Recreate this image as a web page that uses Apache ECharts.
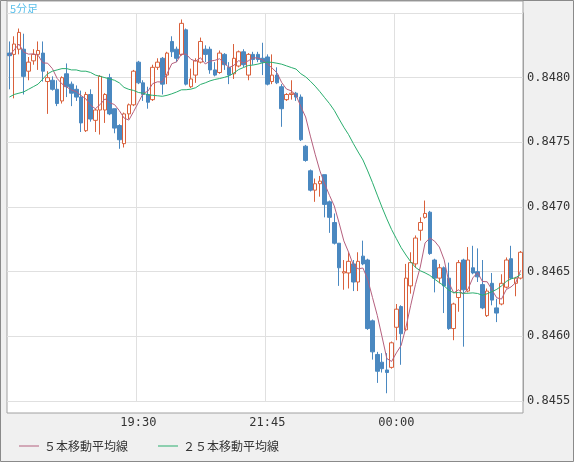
<!DOCTYPE html>
<html>
<head>
<meta charset="UTF-8">
<script src="https://cdn.jsdelivr.net/npm/echarts@6/dist/echarts.min.js"></script>
<style>
  body { margin: 0; background: #f0f0f0; }
  #chart { width: 574px; height: 462px; }
</style>
</head>
<body>
<div id="chart"></div>
<script>
// 5分足 17:15 ～ 02:10, 価格は 1e-5 単位
const startTime = '17:15';
const labelTimes = ['19:30', '21:45', '00:00'];
const yTicks = [0.8455, 0.8460, 0.8465, 0.8470, 0.8475, 0.8480];

const opens = [84819,84818,84822,84822,84805,84813,84818,84819,84797,84798,84791,84782,84803,84795,84791,84785,84759,84787,84767,84775,84775,84800,84776,84763,84749,84772,84779,84812,84796,84787,84783,84808,84815,84802,84828,84822,84818,84837,84793,84802,84812,84822,84822,84806,84804,84818,84808,84803,84809,84820,84802,84818,84818,84815,84816,84797,84802,84793,84783,84787,84788,84785,84747,84728,84713,84718,84725,84704,84688,84672,84649,84649,84656,84642,84662,84659,84612,84586,84580,84574,84576,84607,84623,84605,84639,84656,84682,84692,84696,84659,84645,84653,84645,84606,84630,84659,84635,84653,84650,84640,84616,84641,84622,84625,84638,84660,84641,84645];
const closes = [84817,84826,84835,84801,84812,84818,84821,84805,84800,84791,84780,84800,84793,84788,84785,84765,84787,84768,84775,84801,84787,84772,84761,84752,84772,84779,84805,84796,84787,84781,84808,84812,84795,84819,84820,84815,84842,84795,84799,84813,84828,84818,84806,84802,84819,84810,84802,84815,84820,84810,84818,84814,84814,84812,84795,84802,84796,84776,84787,84788,84785,84752,84736,84713,84718,84720,84702,84692,84672,84653,84650,84658,84642,84658,84656,84606,84588,84573,84575,84572,84595,84621,84602,84645,84657,84676,84688,84695,84664,84645,84653,84639,84606,84625,84657,84636,84659,84649,84646,84622,84635,84628,84618,84641,84659,84645,84645,84665];
const lows = [84791,84784,84818,84787,84798,84810,84806,84797,84772,84790,84778,84780,84785,84778,84782,84758,84758,84766,84758,84756,84765,84771,84757,84745,84746,84768,84778,84795,84782,84776,84782,84806,84787,84795,84816,84812,84817,84794,84792,84796,84811,84812,84803,84801,84803,84806,84795,84799,84808,84808,84798,84810,84812,84802,84794,84795,84795,84762,84782,84783,84782,84751,84735,84712,84704,84708,84692,84680,84671,84639,84636,84637,84635,84635,84655,84605,84582,84564,84572,84556,84575,84597,84578,84604,84633,84653,84674,84691,84663,84634,84641,84618,84605,84597,84619,84592,84634,84648,84642,84621,84615,84624,84611,84624,84637,84644,84631,84644];
const highs = [84828,84832,84838,84834,84816,84822,84828,84828,84805,84801,84798,84801,84811,84797,84794,84790,84789,84791,84776,84802,84788,84803,84776,84764,84773,84780,84806,84813,84798,84793,84810,84815,84816,84820,84832,84824,84845,84838,84807,84815,84831,84825,84824,84812,84821,84819,84812,84826,84821,84822,84819,84820,84820,84827,84818,84818,84808,84795,84788,84798,84789,84787,84748,84729,84722,84724,84725,84705,84695,84672,84659,84665,84659,84665,84674,84660,84613,84588,84587,84587,84596,84625,84624,84656,84665,84678,84692,84705,84697,84660,84656,84654,84657,84626,84659,84660,84669,84670,84668,84659,84637,84649,84629,84648,84661,84670,84646,84666];
// 25本線の先頭 24 本 (表示範囲より前のデータを含むため図から読み取り)
const ma25Head = [84785,84787,84788,84789,84791,84793,84795,84799,84803,84805,84806,84807,84807,84806,84806,84805,84805,84804,84802,84801,84800,84799,84798,84796];

const toPrice = v => v / 100000;

function makeTimes() {
  const out = [];
  let [h, m] = startTime.split(':').map(Number);
  for (let i = 0; i < opens.length; i++) {
    out.push(String(h).padStart(2, '0') + ':' + String(m).padStart(2, '0'));
    m += 5;
    if (m >= 60) { m -= 60; h = (h + 1) % 24; }
  }
  return out;
}

function movingAvg(n, head) {
  const out = [];
  for (let i = 0; i < closes.length; i++) {
    if (head && i < head.length) { out.push(toPrice(head[i])); continue; }
    const from = Math.max(0, i - n + 1);
    let s = 0;
    for (let j = from; j <= i; j++) s += closes[j];
    out.push(toPrice(s / (i - from + 1)));
  }
  return out;
}

const times = makeTimes();
const candles = opens.map((o, i) => [toPrice(o), toPrice(closes[i]), toPrice(lows[i]), toPrice(highs[i])]);

const chart = echarts.init(document.getElementById('chart'));
const font = '"DejaVu Sans Mono", monospace';

chart.setOption({
  animation: false,
  backgroundColor: '#f0f0f0',
  graphic: [
    { type: 'rect', z: -10, shape: { x: 0.5, y: 0.5, width: 573, height: 461 }, style: { fill: '#f0f0f0', stroke: '#8a8a8a' } },
    { type: 'rect', z: -9, shape: { x: 7, y: 1, width: 516, height: 412 }, style: { fill: '#ffffff', stroke: '#a0a0a0' } },
    { type: 'text', left: 10, top: 3, style: { text: '5分足', fill: '#5bc0eb', font: '11px "Noto Sans CJK JP"' } }
  ],
  grid: { left: 7, right: 51, top: 13, bottom: 61 },
  legend: {
    left: 14, bottom: 5, itemWidth: 20, itemHeight: 1, icon: 'rect', itemGap: 30,
    textStyle: { fontFamily: '"Noto Sans CJK JP"', fontSize: 12, color: '#333' },
    data: ['５本移動平均線', '２５本移動平均線']
  },
  xAxis: {
    type: 'category',
    data: times,
    axisLine: { show: false },
    axisTick: { show: false },
    axisLabel: {
      interval: (i, v) => labelTimes.includes(v),
      margin: 16, color: '#333', fontFamily: font, fontSize: 12
    },
    splitLine: { show: true, interval: (i, v) => labelTimes.includes(v), lineStyle: { color: '#e0e0e0' } }
  },
  yAxis: {
    type: 'value',
    position: 'right',
    min: yTicks[0],
    max: 0.8485,
    interval: 0.0005,
    axisLine: { show: true, lineStyle: { color: '#a0a0a0' } },
    axisTick: { show: false },
    axisLabel: {
      margin: 4, color: '#333', fontFamily: font, fontSize: 12,
      formatter: v => yTicks.some(t => Math.abs(t - v) < 1e-7) ? v.toFixed(4) : ''
    },
    splitLine: { lineStyle: { color: '#e0e0e0' } }
  },
  series: [
    {
      type: 'candlestick',
      data: candles,
      barWidth: 4,
      itemStyle: {
        color: '#ffffff', borderColor: '#d9603b',
        color0: '#4a88c0', borderColor0: '#4a88c0', borderWidth: 1
      }
    },
    {
      name: '５本移動平均線', type: 'line', data: movingAvg(5), symbol: 'none',
      lineStyle: { width: 1, color: '#b5607e' }, itemStyle: { color: '#b5607e' }
    },
    {
      name: '２５本移動平均線', type: 'line', data: movingAvg(25, ma25Head), symbol: 'none',
      lineStyle: { width: 1, color: '#2aae6e' }, itemStyle: { color: '#2aae6e' }
    }
  ]
});
</script>
</body>
</html>
